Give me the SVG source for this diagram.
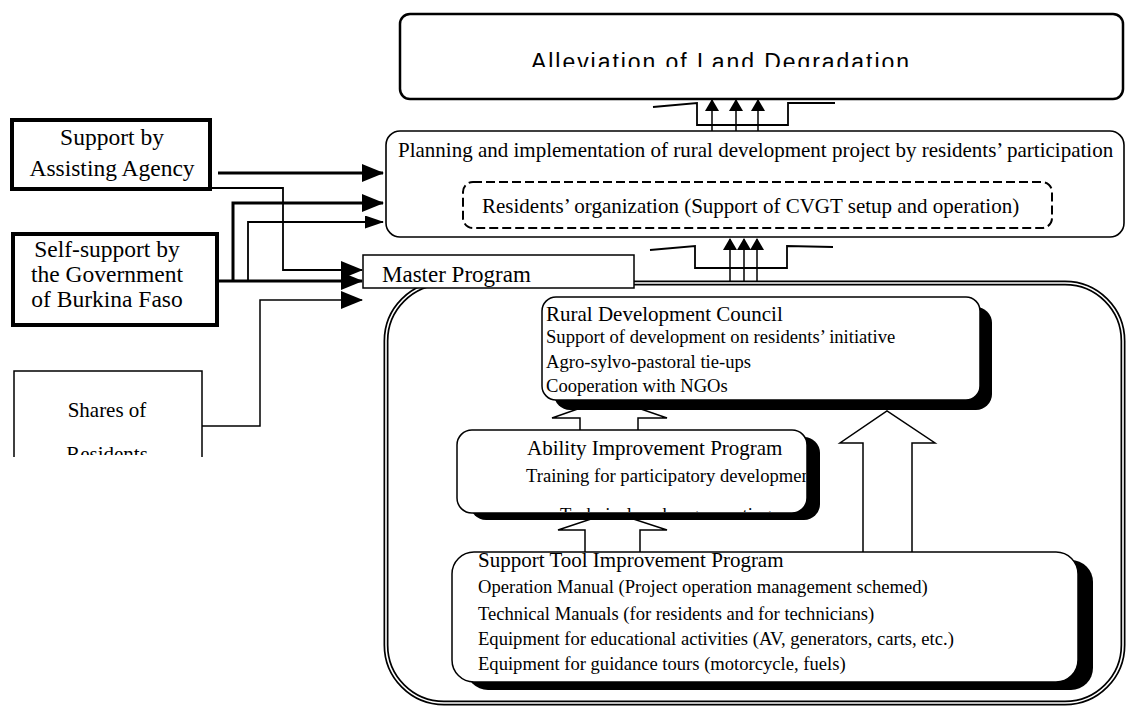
<svg xmlns="http://www.w3.org/2000/svg" width="1126" height="706" viewBox="0 0 1126 706">
<style>
  text { font-family: "Liberation Serif", "Times New Roman", serif; fill: #000; }
  .t21 { font-size: 21px; }
  .t19 { font-size: 18.6px; }
  .t23 { font-size: 23.5px; }
  .mid { text-anchor: middle; }
  .box { fill: #fff; stroke: #000; }
  .shadow { fill: #000; stroke: none; }
  .ln { fill: none; stroke: #000; }
  .blk { fill: #fff; stroke: #000; stroke-width: 1.5; stroke-linejoin: miter; }
</style>
<defs>
  <marker id="ah" markerUnits="userSpaceOnUse" markerWidth="22" markerHeight="18" refX="21" refY="9" orient="auto">
    <path d="M0,0 L22,9 L0,18 Z" fill="#000"/>
  </marker>
  <marker id="ahm" markerUnits="userSpaceOnUse" markerWidth="19" markerHeight="13" refX="18" refY="6.5" orient="auto">
    <path d="M0,0 L19,6.5 L0,13 Z" fill="#000"/>
  </marker>
  <marker id="ahs" markerUnits="userSpaceOnUse" markerWidth="12" markerHeight="14" refX="11" refY="7" orient="auto">
    <path d="M0,0 L12,7 L0,14 Z" fill="#000"/>
  </marker>
  <clipPath id="clip-top"><rect x="400" y="14" width="723" height="53"/></clipPath>
  <clipPath id="clip-ability"><rect x="457" y="430" width="349" height="82"/></clipPath>
  <clipPath id="clip-shares"><rect x="14" y="371" width="188" height="84"/></clipPath>
</defs>

<rect width="1126" height="706" fill="#fff"/>

<!-- large double-lined frame holding the master program contents -->
<g id="program-frame">
  <rect x="386" y="283" width="737" height="420" rx="58" fill="#fff" stroke="#000" stroke-width="5"/>
  <rect x="386" y="283" width="737" height="420" rx="58" fill="none" stroke="#fff" stroke-width="1.6"/>
</g>

<!-- connectors -->
<g id="connectors">
  <!-- inputs from the left-hand supports -->
  <line class="ln" x1="218" y1="173" x2="383" y2="173" stroke-width="3" marker-end="url(#ah)"/>
  <polyline class="ln" points="210,188 283,188 283,270 362,270" stroke-width="1.8" marker-end="url(#ah)"/>
  <line class="ln" x1="204" y1="281" x2="362" y2="281" stroke-width="3" marker-end="url(#ah)"/>
  <polyline class="ln" points="233,281 233,203 383,203" stroke-width="3" marker-end="url(#ah)"/>
  <polyline class="ln" points="248,281 248,222 383,222" stroke-width="1.8" marker-end="url(#ahm)"/>
  <polyline class="ln" points="202,426 260,426 260,300 362,300" stroke-width="1.5" marker-end="url(#ah)"/>

  <!-- planning project -> alleviation -->
  <polyline class="ln" points="653,107 697,103 697,125 788,125 788,103 835,103" stroke-width="1.8"/>
  <line class="ln" x1="712" y1="131" x2="712" y2="100" stroke-width="1.5" marker-end="url(#ahs)"/>
  <line class="ln" x1="736" y1="131" x2="736" y2="100" stroke-width="1.5" marker-end="url(#ahs)"/>
  <line class="ln" x1="758" y1="131" x2="758" y2="100" stroke-width="1.5" marker-end="url(#ahs)"/>

  <!-- master program -> planning project -->
  <polyline class="ln" points="650,250 695,246 695,268 787,268 787,246 833,247" stroke-width="1.8"/>
  <line class="ln" x1="730" y1="282" x2="730" y2="239" stroke-width="1.5" marker-end="url(#ahs)"/>
  <line class="ln" x1="744" y1="282" x2="744" y2="239" stroke-width="1.5" marker-end="url(#ahs)"/>
  <line class="ln" x1="757" y1="282" x2="757" y2="239" stroke-width="1.5" marker-end="url(#ahs)"/>

  <!-- hollow block arrows inside the frame -->
  <polygon class="blk" points="580,431 580,418 552,418 609,398 667,418 638,418 638,431"/>
  <polygon class="blk" points="585,553 585,530 558,530 612,512 667,530 640,530 640,553"/>
  <polygon class="blk" points="863,553 863,443 840,443 887,411 935,443 912,443 912,553"/>
</g>

<g id="alleviation">
  <rect class="box" x="400" y="14" width="723" height="85" rx="10" stroke-width="2.5"/>
  <text x="531" y="70" clip-path="url(#clip-top)" textLength="378" lengthAdjust="spacing" style="font-family:'Liberation Sans',Arial,sans-serif;font-size:23px">Alleviation of Land Degradation</text>
</g>

<g id="planning">
  <rect class="box" x="386" y="131" width="738" height="106" rx="14" stroke-width="1.6"/>
  <text class="t21" x="398" y="157">Planning and implementation of rural development project by residents’ participation</text>
</g>

<g id="residents-organization">
  <rect class="box" x="463" y="182" width="589" height="46" rx="10" stroke-width="2" stroke-dasharray="9 4"/>
  <text class="t21" x="482" y="213">Residents’ organization (Support of CVGT setup and operation)</text>
</g>

<g id="support-agency">
  <rect class="box" x="12" y="120" width="198" height="69" stroke-width="4"/>
  <text class="t23 mid" x="112" y="145">Support by</text>
  <text class="t23 mid" x="112" y="176">Assisting Agency</text>
</g>

<g id="self-support">
  <rect class="box" x="13" y="234" width="204" height="91" stroke-width="4"/>
  <text class="t23 mid" x="107" y="257">Self-support by</text>
  <text class="t23 mid" x="107" y="282">the Government</text>
  <text class="t23 mid" x="107" y="307">of Burkina Faso</text>
</g>

<g id="shares-of-residents">
  <path class="ln" d="M14,457 V371 H202 V457" stroke-width="1.5"/>
  <g clip-path="url(#clip-shares)">
    <text class="t21 mid" x="107" y="417">Shares of</text>
    <text class="t21 mid" x="107" y="461">Residents</text>
  </g>
</g>

<g id="master-program">
  <rect class="box" x="363" y="255" width="271" height="33" stroke-width="1.5"/>
  <text x="382" y="282" style="font-size:23px">Master Program</text>
</g>

<g id="rural-development-council">
  <rect class="shadow" x="554" y="307" width="438" height="103" rx="16"/>
  <rect class="box" x="542" y="297" width="438" height="103" rx="14" stroke-width="1.5"/>
  <text class="t21" x="546" y="321">Rural Development Council</text>
  <text class="t19" x="546" y="343">Support of development on residents’ initiative</text>
  <text class="t19" x="546" y="368">Agro-sylvo-pastoral tie-ups</text>
  <text class="t19" x="546" y="392">Cooperation with NGOs</text>
</g>

<g id="ability-improvement">
  <rect class="shadow" x="470" y="437" width="350" height="83" rx="16"/>
  <rect class="box" x="457" y="430" width="350" height="83" rx="15" stroke-width="1.5"/>
  <g clip-path="url(#clip-ability)">
    <text class="t21" x="527" y="455">Ability Improvement Program</text>
    <text class="t19" x="526" y="482">Training for participatory development</text>
    <text class="t19" x="560" y="521">Technical exchange meeting</text>
  </g>
</g>

<g id="support-tool-improvement">
  <rect class="shadow" x="466" y="560" width="627" height="130" rx="22"/>
  <rect class="box" x="452" y="552" width="626" height="130" rx="22" stroke-width="1.5"/>
  <text class="t21" x="478" y="567">Support Tool Improvement Program</text>
  <text class="t19" x="478" y="593">Operation Manual (Project operation management schemed)</text>
  <text class="t19" x="478" y="620">Technical Manuals (for residents and for technicians)</text>
  <text class="t19" x="478" y="645">Equipment for educational activities (AV, generators, carts, etc.)</text>
  <text class="t19" x="478" y="670">Equipment for guidance tours (motorcycle, fuels)</text>
</g>
</svg>
